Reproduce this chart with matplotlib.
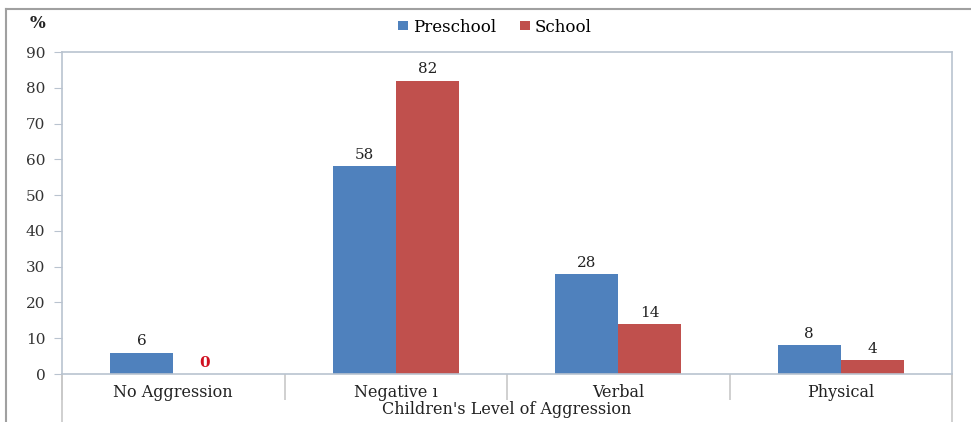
import matplotlib
matplotlib.use("Agg")
import matplotlib.pyplot as plt
from matplotlib.lines import Line2D
import numpy as np

categories = ["No Aggression", "Negative \u0131", "Verbal", "Physical"]
preschool = [6, 58, 28, 8]
school = [0, 82, 14, 4]
yticks = [0, 10, 20, 30, 40, 50, 60, 70, 80, 90]

BLUE = "#4F81BD"
RED = "#C0504D"
AXIS = "#B9C3CF"
FONT = "DejaVu Serif"

fig = plt.figure(figsize=(9.71, 4.22), dpi=100)
ax = fig.add_axes([62 / 971, 48 / 422, 890 / 971, 322 / 422])

x = np.arange(len(categories))
w = 0.283
bp = ax.bar(x - w / 2, preschool, w, color=BLUE, label="Preschool")
bs = ax.bar(x + w / 2, school, w, color=RED, label="School")

for rect, v in zip(bp, preschool):
    ax.annotate(f"{v}", (rect.get_x() + rect.get_width() / 2, v), xytext=(0, 3),
                textcoords="offset points", ha="center", va="bottom",
                fontsize=11, family=FONT, color="#222222")
for rect, v in zip(bs, school):
    zero = v == 0
    ax.annotate(f"{v}", (rect.get_x() + rect.get_width() / 2, v), xytext=(0, 3),
                textcoords="offset points", ha="center", va="bottom",
                fontsize=11, family=FONT,
                color="#D01020" if zero else "#222222",
                fontweight="bold" if zero else "normal")

ax.set_xlim(-0.5, len(categories) - 0.5)
ax.set_ylim(0, 90)
ax.set_yticks(yticks)
ax.set_yticklabels([str(t) for t in yticks], family=FONT, fontsize=11, color="#333333")
ax.tick_params(axis="y", length=6, color=AXIS, pad=6)

ax.set_xticks(x)
ax.set_xticklabels(categories, family=FONT, fontsize=11.5, color="#222222")
ax.tick_params(axis="x", which="major", length=0, pad=7)
ax.set_xticks(np.arange(len(categories) + 1) - 0.5, minor=True)
ax.tick_params(axis="x", which="minor", length=19, color="#C8C8C8", width=1.2)

for s in ax.spines.values():
    s.set_color(AXIS)
    s.set_linewidth(1.2)

ax.set_xlabel("Children's Level of Aggression", family=FONT, fontsize=11.5,
              color="#222222")
ax.xaxis.set_label_coords(0.5, -36 / 322)
ax.xaxis.label.set_va("center")

# plot-area side borders continuing below the axis
for xv in (0, 1):
    ax.add_line(Line2D([xv, xv], [0, -0.2], transform=ax.transAxes,
                       color="#C8C8C8", lw=1.2, clip_on=False))

# "%" unit marker
fig.text(38 / 971, 1 - 23 / 422, "%", family=FONT, fontsize=12, fontweight="bold",
         ha="center", va="center", color="#222222")

leg = fig.legend(handles=[bp, bs], labels=["Preschool", "School"], loc="center",
                 bbox_to_anchor=(495 / 971, 1 - 27 / 422), ncol=2, frameon=False,
                 prop={"family": FONT, "size": 12}, handlelength=0.6,
                 handleheight=0.45, handletextpad=0.3, columnspacing=1.4)

# outer chart frame
fig.add_artist(Line2D([6 / 971, 1], [1 - 9 / 422, 1 - 9 / 422],
                      transform=fig.transFigure, color="#A0A0A0", lw=1.5))
fig.add_artist(Line2D([6 / 971, 6 / 971], [0, 1 - 9 / 422],
                      transform=fig.transFigure, color="#A0A0A0", lw=1.5))

fig.savefig("out.png", dpi=100)
